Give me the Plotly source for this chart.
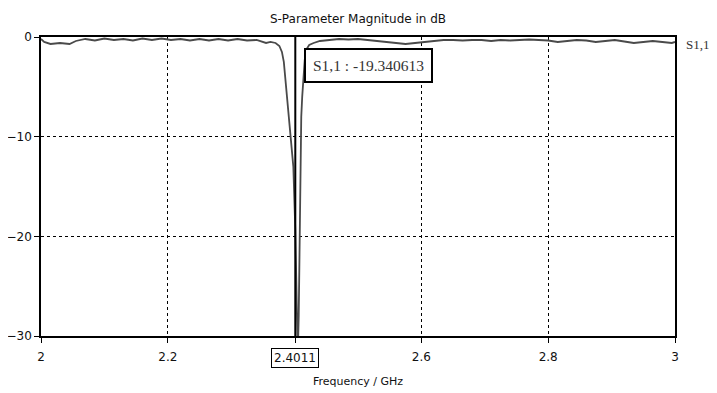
import plotly.graph_objects as go

# ---- data ----
freq_ghz = [2.000, 2.005, 2.015, 2.03, 2.045, 2.055, 2.07, 2.085, 2.10, 2.115, 2.13, 2.145,
            2.16, 2.175, 2.19, 2.205, 2.22, 2.235, 2.25, 2.265, 2.28, 2.295, 2.31, 2.325,
            2.34, 2.355, 2.362, 2.37, 2.376, 2.380, 2.383, 2.386, 2.389, 2.392, 2.395, 2.398,
            2.4011, 2.403, 2.405, 2.4065, 2.4078, 2.409, 2.4105, 2.412, 2.414, 2.416, 2.419,
            2.423, 2.43, 2.44, 2.455, 2.47, 2.485, 2.50, 2.515, 2.53, 2.545, 2.56, 2.575,
            2.59, 2.605, 2.62, 2.635, 2.65, 2.665, 2.68, 2.695, 2.71, 2.725, 2.74, 2.755,
            2.77, 2.785, 2.80, 2.815, 2.83, 2.845, 2.86, 2.875, 2.89, 2.905, 2.92, 2.935,
            2.95, 2.965, 2.98, 2.995, 3.0]
s11_db = [-0.2, -0.5, -0.7, -0.6, -0.7, -0.4, -0.2, -0.35, -0.15, -0.3, -0.2, -0.35,
          -0.15, -0.3, -0.15, -0.3, -0.2, -0.35, -0.2, -0.35, -0.2, -0.35, -0.2, -0.35,
          -0.3, -0.6, -0.5, -0.6, -0.9, -1.5, -2.5, -4.5, -6.5, -8.5, -11.0, -13.0,
          -19.340613, -26.0, -32.0, -28.0, -20.0, -12.0, -8.0, -6.0, -4.0, -2.3, -1.2,
          -0.8, -0.6, -0.4, -0.3, -0.2, -0.25, -0.2, -0.3, -0.4, -0.5, -0.6, -0.7,
          -0.6, -0.5, -0.4, -0.3, -0.3, -0.35, -0.3, -0.3, -0.4, -0.3, -0.35, -0.3,
          -0.25, -0.3, -0.35, -0.5, -0.4, -0.3, -0.35, -0.5, -0.4, -0.3, -0.45, -0.6,
          -0.5, -0.4, -0.5, -0.6, -0.5]

marker_freq = 2.4011
marker_value = -19.340613
x_tickvals = [2, 2.2, marker_freq, 2.6, 2.8, 3]
x_ticktext = ["2", "2.2", "", "2.6", "2.8", "3"]
y_tickvals = [0, -10, -20, -30]

SANS = "DejaVu Sans"
SERIF = "Liberation Serif"

fig = go.Figure()
fig.add_trace(go.Scatter(x=freq_ghz, y=s11_db, mode="lines", name="S1,1",
                         line=dict(color="#4a4a4a", width=1.8), showlegend=False,
                         cliponaxis=True))

# marker line
fig.add_shape(type="line", x0=marker_freq, x1=marker_freq, y0=-30, y1=0,
              xref="x", yref="y", line=dict(color="black", width=2), layer="above")

axis_common = dict(showline=True, linecolor="black", linewidth=1.5, mirror=True,
                   ticks="outside", ticklen=5, tickcolor="black", automargin=False,
                   showgrid=True, gridcolor="black", griddash="dot", gridwidth=1,
                   zeroline=False, tickfont=dict(family=SANS, size=12, color="#111"))

fig.update_xaxes(range=[2, 3], tickvals=x_tickvals, ticktext=x_ticktext,
                 ticklabelstandoff=4,
                 title=dict(text="Frequency / GHz", font=dict(family=SANS, size=11, color="#111"),
                            standoff=14),
                 **axis_common)
fig.update_yaxes(range=[-30, 0], tickvals=y_tickvals, **axis_common)

# boxed marker tick label
fig.add_annotation(x=marker_freq, xref="x", y=-30, yref="y", yshift=-22,
                   text="2.4011", showarrow=False,
                   font=dict(family=SANS, size=12, color="#111"),
                   bordercolor="black", borderwidth=1, borderpad=2, bgcolor="white")

# marker value box
fig.add_annotation(x=marker_freq, xref="x", y=-2.9, yref="y", xshift=9,
                   xanchor="left", yanchor="middle",
                   text="S1,1 : %.6f" % marker_value, showarrow=False,
                   font=dict(family=SERIF, size=15.5, color="#333"),
                   bordercolor="black", borderwidth=2, borderpad=7, bgcolor="white")

# trace label on the right
fig.add_annotation(x=1.0, xref="paper", y=-0.8, yref="y", xshift=10, xanchor="left",
                   text="S1,1", showarrow=False, borderpad=0,
                   font=dict(family=SERIF, size=13, color="#333"))

# page body has an 8px margin: figure is sized/offset to fit the 717x393 window
fig.update_layout(
    width=709, height=385,
    margin=dict(l=33, r=42, t=29, b=57, autoexpand=False),
    paper_bgcolor="white", plot_bgcolor="white",
    title=dict(text="S-Parameter Magnitude in dB", x=(358 - 8) / 709, xanchor="center",
               y=1 - 11 / 385, yanchor="middle", automargin=False,
               font=dict(family=SANS, size=12, color="#111")),
)

fig.write_html("out.html")
